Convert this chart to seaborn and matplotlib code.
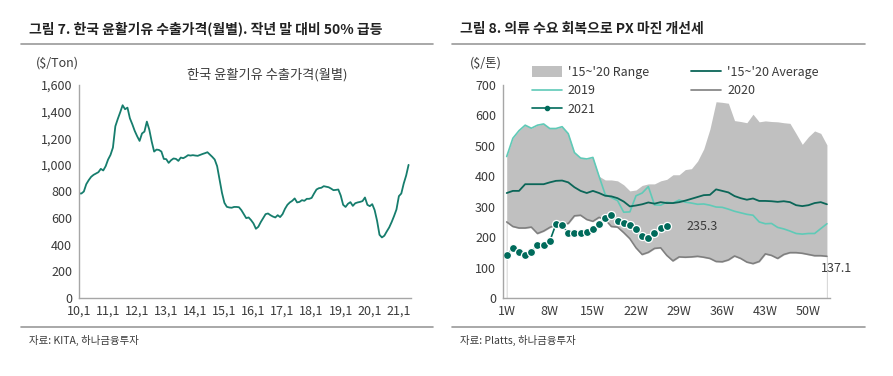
import numpy as np
import pandas as pd
import seaborn as sns
import matplotlib.pyplot as plt
from matplotlib.lines import Line2D
from matplotlib.patches import Patch

sns.set_theme(style="white")
plt.rcParams['font.family'] = ['Noto Sans CJK KR', 'DejaVu Sans']

# ---- left chart: monthly export price, 2010.1 ~ 2021.5 ($/Ton)
lube_price = [785, 785, 800, 855, 885, 910, 925, 935, 945, 970, 958, 990,
              1040, 1075, 1130, 1290, 1345, 1395, 1448, 1418, 1430, 1350, 1305, 1255,
              1215, 1180, 1236, 1250, 1325, 1265, 1175, 1100, 1115, 1112, 1100, 1045,
              1043, 1015, 1035, 1048, 1045, 1030, 1055, 1050, 1060, 1073, 1070, 1073,
              1070, 1068, 1075, 1082, 1088, 1095, 1078, 1060, 1040, 990, 890, 790,
              715, 685, 680, 678, 684, 684, 682, 660, 630, 600, 605, 585,
              560, 520, 535, 570, 600, 630, 635, 622, 612, 605, 622, 608,
              630, 670, 700, 718, 730, 748, 718, 722, 735, 730, 745, 745,
              752, 785, 815, 825, 828, 840, 836, 832, 822, 810, 812, 815,
              770, 700, 684, 708, 720, 692, 712, 718, 722, 728, 755, 700,
              690, 705, 660, 580, 475, 455, 468, 500, 530, 570, 615, 665,
              765, 785, 860, 920, 1000]
month_labels = ['10,1', '11,1', '12,1', '13,1', '14,1', '15,1',
                '16,1', '17,1', '18,1', '19,1', '20,1', '21,1']

# ---- right chart: PX margin by week ($/톤)
range_upper = [465, 525, 550, 568, 558, 568, 572, 557, 557, 563, 540, 478, 460, 457, 462,
               400, 388, 388, 385, 372, 352, 355, 370, 375, 375, 385, 390, 405, 405, 422,
               425, 450, 490, 555, 645, 643, 640, 583, 580, 576, 604, 579, 582, 580, 579,
               576, 574, 540, 505, 530, 549, 541, 503]
avg_15_20 = [345, 352, 352, 374, 374, 374, 374, 380, 385, 386, 380, 364, 352, 345, 352,
             345, 336, 334, 328, 317, 301, 304, 308, 314, 310, 315, 312, 312, 315, 320,
             326, 332, 338, 339, 357, 352, 347, 335, 328, 323, 327, 319, 319, 318, 316,
             318, 315, 305, 302, 305, 312, 315, 308]
y2019 = [465, 525, 550, 568, 558, 568, 572, 557, 557, 563, 540, 478, 460, 457, 462,
         400, 340, 330, 320, 282, 283, 336, 345, 366, 306, 305, 315, 312, 322, 315,
         312, 308, 309, 305, 299, 298, 292, 285, 280, 275, 272, 250, 244, 245, 232,
         227, 220, 212, 210, 212, 212, 228, 244]
y2020 = [250, 235, 230, 230, 233, 212, 220, 232, 240, 243, 245, 270, 272, 258, 252,
         265, 258, 235, 233, 215, 195, 165, 143, 150, 163, 165, 140, 122, 135, 134,
         135, 137, 134, 130, 120, 119, 125, 138, 130, 118, 113, 120, 145, 140, 130,
         143, 149, 149, 147, 143, 139, 139, 137.1]
y2021 = [142, 163, 150, 140, 150, 175, 173, 187, 243, 240, 212, 215, 215, 218, 227,
         243, 263, 272, 252, 248, 240, 227, 203, 198, 215, 230, 235.3]
week_ticks = [1, 8, 15, 22, 29, 36, 43, 50]

months = np.arange(len(lube_price))
weeks = np.arange(1, len(range_upper) + 1)
weeks21 = np.arange(1, len(y2021) + 1)

c_left = '#167d6d'
c_avg = '#0b6658'
c_2019 = '#5fcab7'
c_2020 = '#7f7f7f'
c_2021 = '#006b5b'
c_range = '#c0c0c0'
c_text = '#3a3a3a'
c_axis = '#a6a6a6'

fig = plt.figure(figsize=(8.93, 3.76), dpi=100)
W, H = 893, 376


def style_axes(ax):
    sns.despine(ax=ax)
    for s in ['left', 'bottom']:
        ax.spines[s].set_color(c_axis)
        ax.spines[s].set_linewidth(1.0)
    ax.tick_params(axis='both', which='both', direction='out', length=3,
                   width=0.8, color=c_axis, labelsize=9, labelcolor=c_text, pad=2)
    ax.grid(False)


# ---------------- left panel
ax1 = fig.add_axes([79 / W, 78 / H, 332 / W, 213 / H])
sns.lineplot(x=months, y=lube_price, ax=ax1, color=c_left, linewidth=1.3)
ax1.set_xlim(0, len(lube_price))
ax1.set_ylim(0, 1600)
ax1.set_yticks(range(0, 1601, 200))
ax1.set_yticklabels([f'{v:,}' for v in range(0, 1601, 200)])
ax1.set_xticks(np.arange(0, len(lube_price), 12))
ax1.set_xticklabels(month_labels)
style_axes(ax1)
ax1.text(267 / W, 1 - 75 / H, '한국 윤활기유 수출가격(월별)', transform=fig.transFigure,
         ha='center', va='center', fontsize=9.5, color=c_text)
fig.text(57 / W, 1 - 63 / H, '($/Ton)', ha='center', va='center', fontsize=9, color=c_text)

# ---------------- right panel
ax2 = fig.add_axes([503 / W, 78 / H, 327 / W, 213 / H])
ax2.fill_between(weeks, y2020, range_upper, color=c_range, linewidth=0)
ax2.fill_between(weeks, 0, y2020, facecolor='white', edgecolor='#d9d9d9', linewidth=0.8)
sns.lineplot(x=weeks, y=y2019, ax=ax2, color=c_2019, linewidth=1.2)
sns.lineplot(x=weeks, y=y2020, ax=ax2, color=c_2020, linewidth=1.2)
sns.lineplot(x=weeks, y=avg_15_20, ax=ax2, color=c_avg, linewidth=1.3)
sns.lineplot(x=weeks21, y=y2021, ax=ax2, color=c_2021, linewidth=1.2, marker='o',
             markersize=5.8, markeredgecolor='white', markeredgewidth=0.9)
ax2.set_xlim(0.4, 53.5)
ax2.set_ylim(0, 700)
ax2.set_yticks(range(0, 701, 100))
ax2.set_xticks(week_ticks)
ax2.set_xticklabels([f'{w}W' for w in week_ticks])
style_axes(ax2)

ax2.annotate(f'{y2021[-1]:.1f}', xy=(weeks21[-1], y2021[-1]), xytext=(14, 0),
             textcoords='offset points', ha='left', va='center', fontsize=9, color=c_text)
ax2.annotate(f'{y2020[-1]:.1f}', xy=(weeks[-1], y2020[-1]), xytext=(7, -9),
             textcoords='offset points', ha='center', va='center', fontsize=9, color=c_text)
fig.text(486 / W, 1 - 63 / H, '($/톤)', ha='center', va='center', fontsize=9, color=c_text)

handles = [Patch(facecolor=c_range, edgecolor='none'),
           Line2D([], [], color=c_2019, lw=1.2),
           Line2D([], [], color=c_2021, lw=1.2, marker='o', markersize=3),
           Line2D([], [], color=c_avg, lw=1.3),
           Line2D([], [], color=c_2020, lw=1.2)]
labels = ["'15~'20 Range", '2019', '2021', "'15~'20 Average", '2020']
ax2.legend(handles, labels, ncol=2, frameon=False, fontsize=9,
           loc='upper left', bbox_to_anchor=(0.07, 1.12),
           handlelength=2.4, handleheight=0.9, handletextpad=0.45,
           labelspacing=0.45, columnspacing=3.4, borderpad=0, labelcolor=c_text)

# ---------------- titles, rules, sources
fig.text(29 / W, 1 - 29 / H, '그림 7. 한국 윤활기유 수출가격(월별). 작년 말 대비 50% 급등',
         ha='left', va='center', fontsize=10, fontweight='bold', color='#222222')
fig.text(460 / W, 1 - 29 / H, '그림 8. 의류 수요 회복으로 PX 마진 개선세',
         ha='left', va='center', fontsize=10, fontweight='bold', color='#222222')
for x0, x1 in [(21, 433), (452, 865)]:
    fig.add_artist(Line2D([x0 / W, x1 / W], [1 - 44 / H, 1 - 44 / H],
                          transform=fig.transFigure, color='#9a9a9a', lw=1.2))
    fig.add_artist(Line2D([x0 / W, x1 / W], [1 - 327 / H, 1 - 327 / H],
                          transform=fig.transFigure, color='#9a9a9a', lw=1.2))
fig.text(29 / W, 1 - 340 / H, '자료: KITA, 하나금융투자', ha='left', va='center',
         fontsize=7.5, color=c_text)
fig.text(460 / W, 1 - 340 / H, '자료: Platts, 하나금융투자', ha='left', va='center',
         fontsize=7.5, color=c_text)

plt.savefig('out.png', dpi=100)
